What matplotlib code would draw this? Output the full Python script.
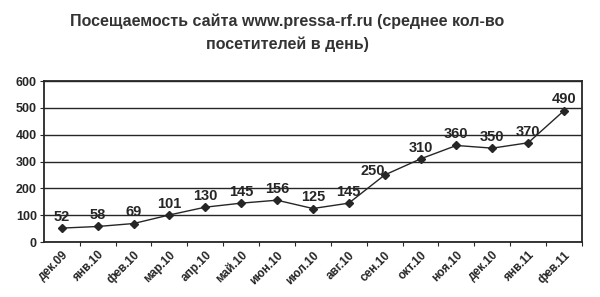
import matplotlib
matplotlib.use("Agg")
import matplotlib.pyplot as plt

plt.rcParams["font.family"] = ["Liberation Sans", "DejaVu Sans"]

months = ["дек.09", "янв.10", "фев.10", "мар.10", "апр.10", "май.10", "июн.10",
          "июл.10", "авг.10", "сен.10", "окт.10", "ноя.10", "дек.10", "янв.11", "фев.11"]
visits = [52, 58, 69, 101, 130, 145, 156, 125, 145, 250, 310, 360, 350, 370, 490]
yticks = [0, 100, 200, 300, 400, 500, 600]

INK = "#262626"

fig = plt.figure(figsize=(6, 2.97), dpi=100)
ax = fig.add_axes([0.073, 0.185, 0.897, 0.542])

x = list(range(len(months)))
ax.plot(x, visits, color=INK, lw=1.0, marker="D", ms=4.5, mfc=INK, mec=INK, zorder=3)

for xi, v in zip(x, visits):
    if v == 250:
        ax.annotate(str(v), (xi, v), xytext=(0, 3), textcoords="offset points",
                    ha="right", va="center", fontsize=10.5, fontweight="bold", color=INK)
    else:
        ax.annotate(str(v), (xi, v), xytext=(0, 3), textcoords="offset points",
                    ha="center", va="bottom", fontsize=10.5, fontweight="bold", color=INK)

ax.set_xlim(-0.5, len(months) - 0.5)
ax.set_ylim(0, 600)
ax.set_yticks(yticks)
ax.set_yticklabels([str(t) for t in yticks], fontsize=9, fontweight="bold", color=INK)
ax.set_xticks([i + 0.5 for i in x])
ax.set_xticks(x, minor=True)
ax.set_xticklabels([], minor=False)
ax.set_xticklabels(months, minor=True, rotation=45, ha="right", rotation_mode="anchor",
                   fontsize=8.5, fontweight="bold", color=INK)
ax.tick_params(axis="x", which="minor", length=0, pad=5)
ax.tick_params(axis="x", which="major", length=3, color=INK, direction="out")
ax.tick_params(axis="y", length=3, color=INK, direction="out", pad=2)

ax.yaxis.grid(True, color=INK, lw=1.0)
ax.set_axisbelow(True)
for s in ax.spines.values():
    s.set_color(INK)
    s.set_linewidth(1.3)

fig.text(0.479, 0.93, "Посещаемость сайта www.pressa-rf.ru (среднее кол-во",
         ha="center", va="center", fontsize=11.5, fontweight="bold", color="#333333")
fig.text(0.479, 0.852, "посетителей в день)",
         ha="center", va="center", fontsize=11.5, fontweight="bold", color="#333333")

fig.savefig("out.png", dpi=100)
